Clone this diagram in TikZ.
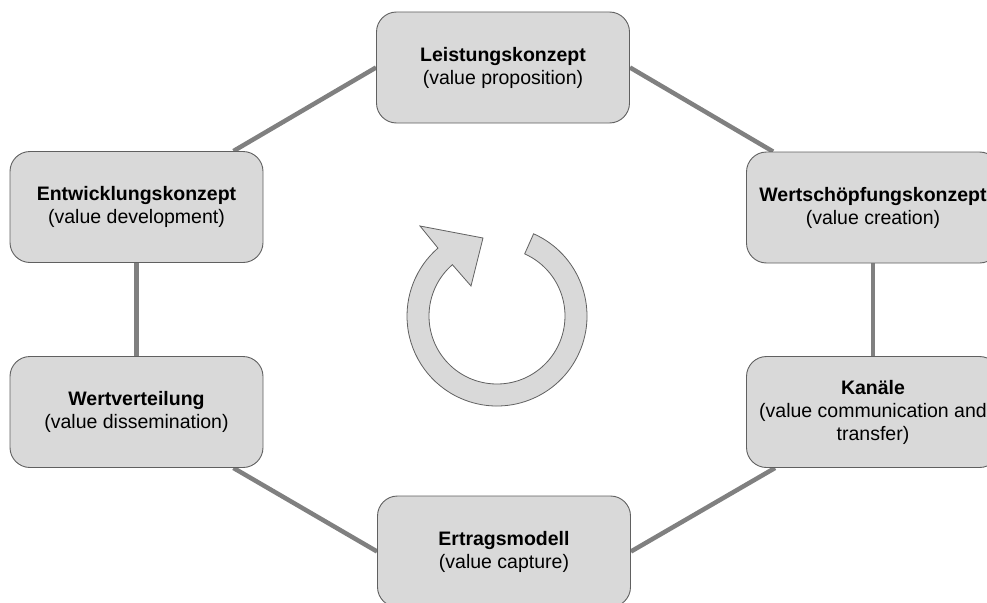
\documentclass[tikz,border=0pt]{standalone}
\usepackage{fontspec}
\setmainfont{Liberation Sans}
\usetikzlibrary{calc,backgrounds}
\definecolor{boxfill}{HTML}{D9D9D9}
\definecolor{boxline}{HTML}{606060}
\definecolor{conn}{HTML}{808080}
\begin{document}
\begin{tikzpicture}[x=1pt,y=-1pt,
  stage/.style={draw=boxline, line width=0.9pt, fill=boxfill, rounded corners=20pt,
    minimum width=253pt, minimum height=111pt, align=center, inner sep=0pt,
    font=\fontsize{19.5}{23}\selectfont},
  link/.style={draw=conn, line width=4.5pt},
  cyclearrow/.style={draw=boxline, line width=0.8pt, fill=boxfill}]
\clip (0,0) rectangle (987,602);

\node[stage] (lk) at (503,67.5) {\textbf{Leistungskonzept}\\(value proposition)};
\node[stage] (ws) at (873,207.5) {\textbf{Wertschöpfungskonzept}\\(value creation)};
\node[stage] (ka) at (873,412) {\textbf{Kanäle}\\(value communication and\\transfer)};
\node[stage] (em) at (504,551.5) {\textbf{Ertragsmodell}\\(value capture)};
\node[stage] (wv) at (136.5,412) {\textbf{Wertverteilung}\\(value dissemination)};
\node[stage] (ek) at (136.5,207) {\textbf{Entwicklungskonzept}\\(value development)};

\begin{scope}[on background layer]
\draw[link] ($(ek.north east)+(-30,0)$) -- (lk.west);
\draw[link] (lk.east) -- ($(ws.north west)+(27,0)$);
\draw[link] (ws.south) -- (ka.north);
\draw[link] ($(ka.south west)+(29,0)$) -- (em.east);
\draw[link] ($(wv.south east)+(-30,0)$) -- (em.west);
\draw[link] (ek.south) -- (wv.north);
\end{scope}

\begin{scope}[shift={(497,316)}, yscale=-1]
\draw[cyclearrow] (66:90) arc[start angle=66, end angle=-229, radius=90]
  -- (-77,90) -- (-14,78) -- (-26,30) -- (131:68)
  arc[start angle=-229, end angle=66, radius=68] -- cycle;
\end{scope}
\end{tikzpicture}
\end{document}
